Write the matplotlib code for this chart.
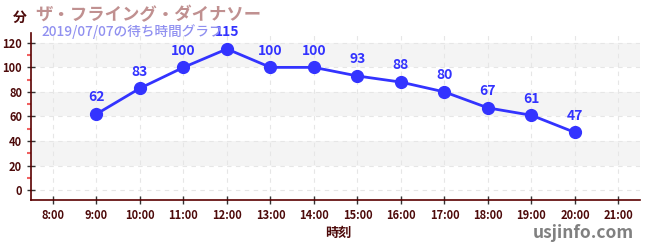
import matplotlib
matplotlib.use('Agg')
import matplotlib.pyplot as plt
from matplotlib.ticker import MultipleLocator

plt.rcParams['font.family'] = ['Noto Sans CJK JP', 'DejaVu Sans']

hours = [9, 10, 11, 12, 13, 14, 15, 16, 17, 18, 19, 20]
waits = [62, 83, 100, 115, 100, 100, 93, 88, 80, 67, 61, 47]
tick_hours = list(range(8, 22))
tick_labels = ['%d:00' % h for h in tick_hours]
y_ticks = [0, 20, 40, 60, 80, 100, 120]

title = 'ザ・フライング・ダイナソー'
subtitle = '2019/07/07の待ち時間グラフ'

dark = '#4d0a0a'
blue = '#3333ff'

fig = plt.figure(figsize=(6.5, 2.5), dpi=100)
ax = fig.add_axes([0.048, 0.2, 0.937, 0.668])

# grey bands
for lo in [20, 60, 100]:
    ax.axhspan(lo, lo + 20, color='#f4f4f4', zorder=0, lw=0)

ax.grid(True, color='#e6e6e6', linestyle=(0, (4, 4)), linewidth=0.8, zorder=0)

ax.plot(hours, waits, color=blue, linewidth=2, marker='o', markersize=8.5, zorder=3)
for h, w in zip(hours, waits):
    ax.annotate(str(w), (h, w), xytext=(0, 7), textcoords='offset points',
                ha='center', va='bottom', color=blue, fontsize=10, fontweight='bold')

ax.set_xlim(7.5, 21.5)
ax.set_ylim(-8, 128)
ax.set_xticks(tick_hours)
ax.set_xticklabels(tick_labels)
ax.set_yticks(y_ticks)
ax.yaxis.set_minor_locator(MultipleLocator(10))

ax.tick_params(axis='both', which='major', direction='inout', length=6, width=1,
               color='#333333', labelcolor=dark, labelsize=8)
ax.tick_params(axis='y', which='minor', direction='out', length=3, width=1.5, color='#f06060')
for lab in ax.get_xticklabels() + ax.get_yticklabels():
    lab.set_fontweight('bold')

for s in ['top', 'right']:
    ax.spines[s].set_visible(False)
for s in ['left', 'bottom']:
    ax.spines[s].set_color('#5a0000')
    ax.spines[s].set_linewidth(1.2)

fig.text(0.031, 0.93, '分', color=dark, fontsize=10, fontweight='bold', ha='center', va='center')
fig.text(0.054, 0.94, title, color='#c09090', fontsize=12.5, fontweight='bold', va='center')
fig.text(0.064, 0.872, subtitle, color='#9090f0', fontsize=9.8, fontweight='medium', va='center')
fig.text(0.52, 0.07, '時刻', color=dark, fontsize=9.5, fontweight='bold', ha='center', va='center')
fig.text(0.975, 0.07, 'usjinfo.com', color='#808080', fontsize=12.5, fontweight='bold',
         ha='right', va='center')

fig.savefig('out.png', dpi=100)
